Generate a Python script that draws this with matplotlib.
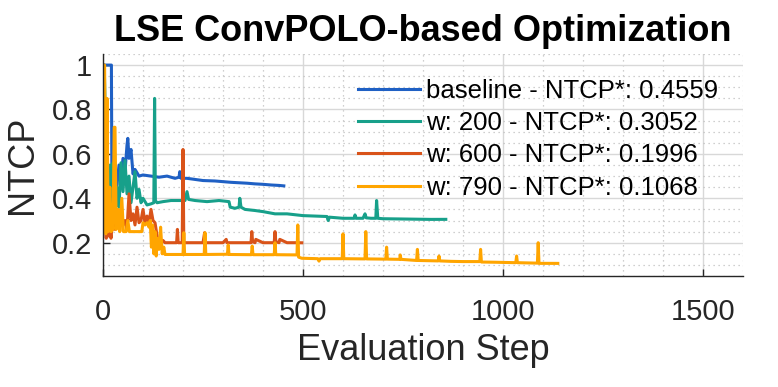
import matplotlib
matplotlib.use("Agg")
import matplotlib.pyplot as plt
from matplotlib.ticker import MultipleLocator

plt.rcParams['font.family'] = ['Liberation Sans', 'DejaVu Sans']

title = "LSE ConvPOLO-based Optimization"
xlabel = "Evaluation Step"
ylabel = "NTCP"
labels = ["baseline - NTCP*: 0.4559", "w: 200 - NTCP*: 0.3052",
          "w: 600 - NTCP*: 0.1996", "w: 790 - NTCP*: 0.1068"]
colors = ["#1F60C4", "#17A08A", "#D95319", "#FFA500"]

base_x = [0, 5, 21, 22, 25, 30, 35, 40, 45, 50, 55, 60, 62, 65, 70, 75, 80, 90, 100,
          120, 140, 160, 180, 190, 192, 195, 210, 230, 250, 280, 300, 320, 340, 360,
          380, 400, 420, 440, 452]
base_y = [1.0, 1.0, 1.0, 0.56, 0.47, 0.52, 0.46, 0.55, 0.50, 0.58, 0.52, 0.64, 0.67,
          0.58, 0.62, 0.51, 0.53, 0.50, 0.505, 0.50, 0.495, 0.50, 0.49, 0.495, 0.52,
          0.49, 0.49, 0.485, 0.48, 0.478, 0.475, 0.472, 0.47, 0.468, 0.465, 0.463,
          0.46, 0.458, 0.456]

w200_x = [0, 3, 8, 12, 18, 22, 25, 30, 35, 40, 45, 50, 55, 60, 65, 70, 75, 80, 85, 90,
          95, 100, 110, 120, 127, 129, 131, 135, 150, 170, 190, 205, 210, 214, 230, 260,
          290, 315, 318, 330, 340, 342, 345, 355, 380, 400, 430, 460, 500, 530, 560, 563,
          566, 600, 628, 630, 633, 650, 655, 658, 670, 682, 684, 687, 700, 740, 780, 820,
          857]
w200_y = [1.0, 1.0, 0.6, 0.4, 0.55, 0.35, 0.56, 0.40, 0.45, 0.36, 0.56, 0.43, 0.57,
          0.42, 0.50, 0.38, 0.45, 0.52, 0.40, 0.44, 0.38, 0.40, 0.37, 0.375, 0.38, 0.85,
          0.39, 0.38, 0.385, 0.39, 0.39, 0.39, 0.43, 0.395, 0.39, 0.385, 0.39, 0.385,
          0.36, 0.355, 0.36, 0.40, 0.36, 0.35, 0.345, 0.34, 0.33, 0.33, 0.322, 0.32,
          0.318, 0.30, 0.315, 0.31, 0.31, 0.325, 0.31, 0.31, 0.33, 0.312, 0.31, 0.31,
          0.39, 0.31, 0.308, 0.307, 0.306, 0.305, 0.3052]

w600_x = [0, 3, 5, 8, 10, 13, 16, 20, 25, 30, 35, 40, 45, 50, 55, 60, 65, 70, 75, 80,
          85, 90, 95, 100, 105, 110, 115, 120, 125, 130, 138, 150, 155, 170, 184, 186,
          188, 198, 200, 202, 220, 250, 254, 256, 270, 300, 308, 310, 330, 350, 370,
          372, 374, 380, 382, 400, 428, 430, 432, 440, 442, 460, 480, 497]
w600_y = [1.0, 0.95, 0.45, 0.22, 0.40, 0.23, 0.28, 0.22, 0.33, 0.26, 0.30, 0.27, 0.35,
          0.28, 0.30, 0.26, 0.42, 0.30, 0.33, 0.28, 0.36, 0.29, 0.30, 0.35, 0.29, 0.32,
          0.29, 0.35, 0.30, 0.29, 0.20, 0.21, 0.20, 0.20, 0.20, 0.26, 0.20, 0.20, 0.62,
          0.20, 0.20, 0.20, 0.245, 0.20, 0.20, 0.20, 0.215, 0.20, 0.20, 0.20, 0.20,
          0.25, 0.205, 0.20, 0.215, 0.20, 0.20, 0.25, 0.205, 0.20, 0.215, 0.20, 0.20,
          0.1996]

w790_x = [0, 4, 7, 10, 13, 17, 20, 25, 28, 30, 33, 38, 42, 47, 51, 58, 62, 66, 80, 90,
          97, 100, 105, 110, 115, 118, 121, 124, 127, 130, 133, 136, 140, 144, 148, 152,
          155, 185, 200, 202, 204, 253, 255, 257, 311, 313, 315, 371, 373, 375, 428, 430,
          432, 485, 487, 489, 497, 537, 540, 543, 598, 600, 602, 655, 657, 659, 707, 709,
          711, 742, 743, 745, 784, 786, 788, 838, 840, 842, 870, 900, 942, 944, 946, 980,
          1032, 1034, 1036, 1086, 1088, 1090, 1110, 1137]
w790_y = [1.0, 1.0, 0.24, 0.85, 0.25, 0.45, 0.25, 0.26, 0.72, 0.72, 0.26, 0.35, 0.25,
          0.40, 0.25, 0.25, 0.30, 0.25, 0.25, 0.25, 0.25, 0.29, 0.28, 0.29, 0.27, 0.30,
          0.18, 0.28, 0.15, 0.25, 0.14, 0.22, 0.17, 0.27, 0.15, 0.18, 0.147, 0.147,
          0.147, 0.245, 0.147, 0.147, 0.245, 0.147, 0.148, 0.19, 0.147, 0.146, 0.185,
          0.146, 0.146, 0.20, 0.146, 0.145, 0.28, 0.135, 0.13, 0.128, 0.117, 0.128,
          0.128, 0.24, 0.128, 0.127, 0.25, 0.127, 0.126, 0.18, 0.126, 0.125, 0.145,
          0.125, 0.12, 0.17, 0.12, 0.118, 0.14, 0.118, 0.116, 0.115, 0.115, 0.17, 0.113,
          0.112, 0.11, 0.14, 0.11, 0.108, 0.20, 0.107, 0.107, 0.1068]

series = [(base_x, base_y), (w200_x, w200_y), (w600_x, w600_y), (w790_x, w790_y)]

fig = plt.figure(figsize=(7.78, 3.87), dpi=100)
ax = fig.add_axes([0.1324, 0.2868, 0.8226, 0.5737])

for (xs, ys), lab, c in zip(series, labels, colors):
    ax.plot(xs, ys, color=c, lw=2.2, label=lab)

ax.set_xlim(0, 1600)
ax.set_ylim(0.05, 1.05)
ax.xaxis.set_major_locator(MultipleLocator(500))
ax.xaxis.set_minor_locator(MultipleLocator(100))
ax.set_yticks([0.2, 0.4, 0.6, 0.8, 1.0])
ax.set_yticklabels(["0.2", "0.4", "0.6", "0.8", "1"])
ax.yaxis.set_minor_locator(MultipleLocator(0.05))

ax.grid(which='major', color='#d8d8d8', lw=1.0, ls='-')
ax.grid(which='minor', color='#c0c0c0', lw=0.9, ls=(0, (1, 3)))
ax.set_axisbelow(True)

for s in ['top', 'right']:
    ax.spines[s].set_visible(False)
for s in ['left', 'bottom']:
    ax.spines[s].set_color('#262626')
    ax.spines[s].set_linewidth(1.0)

ax.tick_params(which='major', direction='in', length=5, width=1.0, color='#262626',
               labelsize=21, labelcolor='#262626')
ax.tick_params(axis='x', which='major', pad=16)
ax.tick_params(axis='y', which='major', pad=8)
ax.tick_params(which='minor', length=0)

ax.set_xlabel(xlabel, fontsize=26, color='#262626', labelpad=5)
ax.set_ylabel(ylabel, fontsize=26, color='#262626', labelpad=8)
ax.set_title(title, fontsize=26, fontweight='bold', pad=9)

leg = ax.legend(loc='upper left', bbox_to_anchor=(358 / 778, 1 - 79 / 387),
                bbox_transform=fig.transFigure, frameon=False, fontsize=18.5,
                handlelength=2.4, handletextpad=0.25, labelspacing=0.32,
                borderpad=0, borderaxespad=0)

fig.savefig("out.png", dpi=100)
